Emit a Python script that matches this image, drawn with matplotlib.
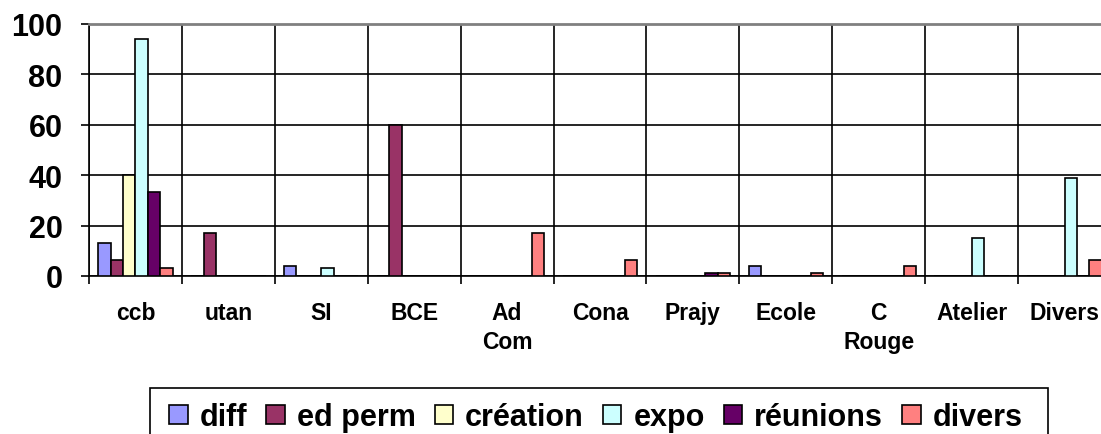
import matplotlib
matplotlib.use("Agg")
import matplotlib.pyplot as plt
import numpy as np
from matplotlib.patches import Patch, Rectangle

categories = ["ccb", "utan", "SI", "BCE", "Ad\nCom", "Cona", "Prajy", "Ecole", "C\nRouge", "Atelier", "Divers"]
series_names = ["diff", "ed perm", "création", "expo", "réunions", "divers"]
diff     = [13, 0, 4, 0, 0, 0, 0, 4, 0, 0, 0]
ed_perm  = [6.5, 17, 0, 60, 0, 0, 0, 0, 0, 0, 0]
creation = [40, 0, 0, 0, 0, 0, 0, 0, 0, 0, 0]
expo     = [94, 0, 3.3, 0, 0, 0, 0, 0, 0, 15, 39]
reunions = [33.5, 0, 0, 0, 0, 0, 1, 0, 0, 0, 0]
divers   = [3.3, 0, 0, 0, 17, 6.5, 1, 1, 4, 0, 6.5]
colors = ["#9999FF", "#993366", "#FFFFCC", "#CCFFFF", "#660066", "#FF8080"]
yticks = [0, 20, 40, 60, 80, 100]

data = [diff, ed_perm, creation, expo, reunions, divers]

plt.rcParams['font.family'] = ['Liberation Sans', 'DejaVu Sans']
fig = plt.figure(figsize=(11.01, 4.35), dpi=100)
W, H = 1101, 435
left, right, top, bottom = 89, 1111, 25, 277
ax = fig.add_axes([left / W, 1 - bottom / H, (right - left) / W, (bottom - top) / H])

n = len(categories)
x = np.arange(n)
w = 1 / 7.5
for i, (vals, c, name) in enumerate(zip(data, colors, series_names)):
    ax.bar(x + (i - 2.5) * w, vals, width=w, color=c, edgecolor="black",
           linewidth=1.2, zorder=3, label=name)

ax.set_xlim(-0.5, n - 0.5)
ax.set_ylim(0, 100)
ax.set_yticks(yticks)
ax.set_yticklabels([str(v) for v in yticks], fontsize=22, fontweight="bold")
ax.set_xticks(x)
ax.set_xticklabels(categories, fontsize=16.5, fontweight="bold", linespacing=1.35)
ax.set_xticks(np.arange(n + 1) - 0.5, minor=True)
ax.tick_params(axis="x", which="major", length=0, pad=18)
ax.tick_params(axis="x", which="minor", length=6, width=1.2, direction="out", color="black")
ax.tick_params(axis="y", which="major", length=6, width=1.2, direction="out", pad=13)

ax.yaxis.grid(True, color="black", linewidth=1.2, zorder=0)
ax.xaxis.grid(True, which="minor", color="black", linewidth=1.2, zorder=0)
ax.xaxis.grid(False, which="major")
ax.set_axisbelow(True)

for s in ["left", "bottom"]:
    ax.spines[s].set_color("black")
    ax.spines[s].set_linewidth(1.2)
ax.spines["top"].set_color("#808080")
ax.spines["top"].set_linewidth(2)
ax.spines["right"].set_color("#808080")

handles = [Patch(facecolor=c, edgecolor="black", linewidth=1.2) for c in colors]
leg = fig.legend(handles, series_names, loc="upper left",
                 bbox_to_anchor=(160 / W, 1 - 394 / H), ncol=6,
                 prop={"size": 22, "weight": "bold"}, frameon=False,
                 handlelength=0.6, handleheight=0.6, handletextpad=0.4,
                 columnspacing=0.62, borderpad=0.3, borderaxespad=0)

# legend frame (extends beyond the bottom of the image, as in the reference)
frame = Rectangle((150 / W, -0.1), (1048 - 150) / W, (1 - 389 / H) + 0.1,
                  transform=fig.transFigure, facecolor="none", edgecolor="black",
                  linewidth=1.2)
fig.add_artist(frame)

fig.savefig("out.png", dpi=100)
